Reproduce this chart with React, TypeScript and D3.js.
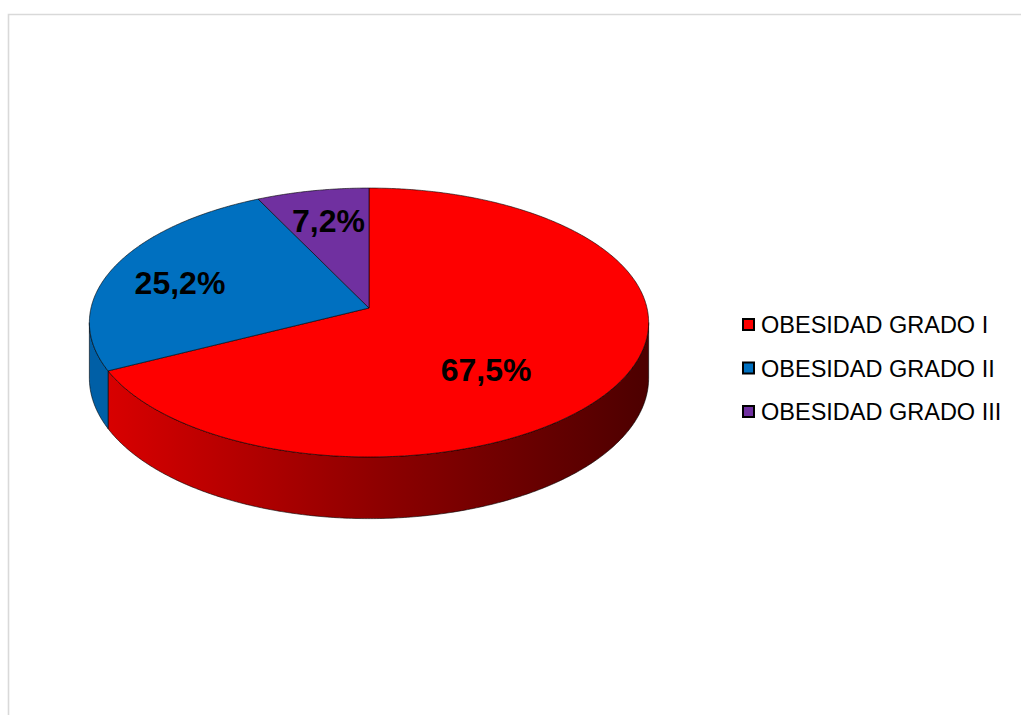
import React from "react";
import * as d3 from "d3";

const categories = ["OBESIDAD GRADO I", "OBESIDAD GRADO II", "OBESIDAD GRADO III"];
const values = [67.5, 25.2, 7.2];
const valueLabels = ["67,5%", "25,2%", "7,2%"];
const topColors = ["#fe0000", "#0070c0", "#7030a0"];
const sideColors = ["url(#redSide)", "#005fa6", "#5a2585"];

const W = 1021;
const H = 715;
const cx = 369;
const cy = 308;
const A = 278;
const B = 132.9;
const D = 9.27;
const DEPTH = 55;

function proj(theta: number, r: number, z: number): [number, number] {
  const u = r * Math.sin(theta);
  const v = -r * Math.cos(theta);
  const w = D / (D - v);
  return [cx + A * u * w, cy + B * v * w + z * DEPTH * w];
}

function arcPoints(a0: number, a1: number, z: number): [number, number][] {
  const n = Math.max(2, Math.ceil(Math.abs(a1 - a0) / 0.01));
  const pts: [number, number][] = [];
  for (let i = 0; i <= n; i++) {
    const t = a0 + ((a1 - a0) * i) / n;
    pts.push(proj(t, 1, z));
  }
  return pts;
}

const line = d3.line();

export default function App() {
  const pie = d3
    .pie<number>()
    .sort(null)
    .startAngle(0)
    .endAngle(2 * Math.PI);
  const arcs = pie(values);

  const visLo = Math.acos(-1 / D); // right silhouette
  const visHi = 2 * Math.PI - visLo; // left silhouette

  const sides = arcs.map((a, i) => {
    const s = Math.max(a.startAngle, visLo);
    const e = Math.min(a.endAngle, visHi);
    if (e <= s) return null;
    const top = arcPoints(s, e, 0);
    const bot = arcPoints(e, s, 1);
    return { i, d: line([...top, ...bot])! + "Z" };
  });

  const tops = arcs.map((a, i) => {
    const pts = [proj(0, 0, 0), ...arcPoints(a.startAngle, a.endAngle, 0)];
    return { i, d: line(pts)! + "Z" };
  });

  const labelR = [0.6, 0.7, 0.66];
  const labelNudge: [number, number][] = [
    [-30, 30],
    [-9, 15],
    [-2, 4],
  ];
  const labels = arcs.map((a, i) => {
    const mid = (a.startAngle + a.endAngle) / 2;
    const [x, y] = proj(mid, labelR[i], 0);
    return { x: x + labelNudge[i][0], y: y + labelNudge[i][1], t: valueLabels[i] };
  });

  const legendX = 742;
  const legendY0 = 318;
  const legendStep = 43.5;

  return (
    <svg
      width={W}
      height={H}
      style={{ position: "absolute", left: 0, top: 0 }}
      fontFamily="'Liberation Sans', Arial, sans-serif"
    >
      <defs>
        <linearGradient id="redSide" gradientUnits="userSpaceOnUse" x1={108} y1={0} x2={650} y2={0}>
          <stop offset="0" stopColor="#d80000" />
          <stop offset="0.5" stopColor="#8e0000" />
          <stop offset="1" stopColor="#4c0000" />
        </linearGradient>
      </defs>
      <rect x={0} y={0} width={W} height={H} fill="#fff" />
      <path d={`M8.5,715 L8.5,14.5 L1021,14.5`} fill="none" stroke="#d9d9d9" strokeWidth={1.6} />

      {sides.map((s) =>
        s ? (
          <path
            key={"s" + s.i}
            d={s.d}
            fill={sideColors[s.i]}
            stroke="#000"
            strokeOpacity={0.75}
            strokeWidth={0.8}
            strokeLinejoin="round"
          />
        ) : null
      )}
      {tops.map((t) => (
        <path
          key={"t" + t.i}
          d={t.d}
          fill={topColors[t.i]}
          stroke="#000"
          strokeOpacity={0.75}
          strokeWidth={0.8}
          strokeLinejoin="round"
        />
      ))}
      {labels.map((l, i) => (
        <text
          key={"l" + i}
          x={l.x}
          y={l.y}
          textAnchor="middle"
          fontSize={32}
          fontWeight="bold"
          fill="#000"
        >
          {l.t}
        </text>
      ))}

      {categories.map((c, i) => (
        <g key={"lg" + i}>
          <rect
            x={legendX + 1}
            y={legendY0 + i * legendStep + 1}
            width={11}
            height={11}
            fill={topColors[i]}
            stroke="#000"
            strokeWidth={2}
          />
          <text x={761} y={legendY0 + 15 + i * legendStep} fontSize={23.5} fill="#000">
            {c}
          </text>
        </g>
      ))}
    </svg>
  );
}
